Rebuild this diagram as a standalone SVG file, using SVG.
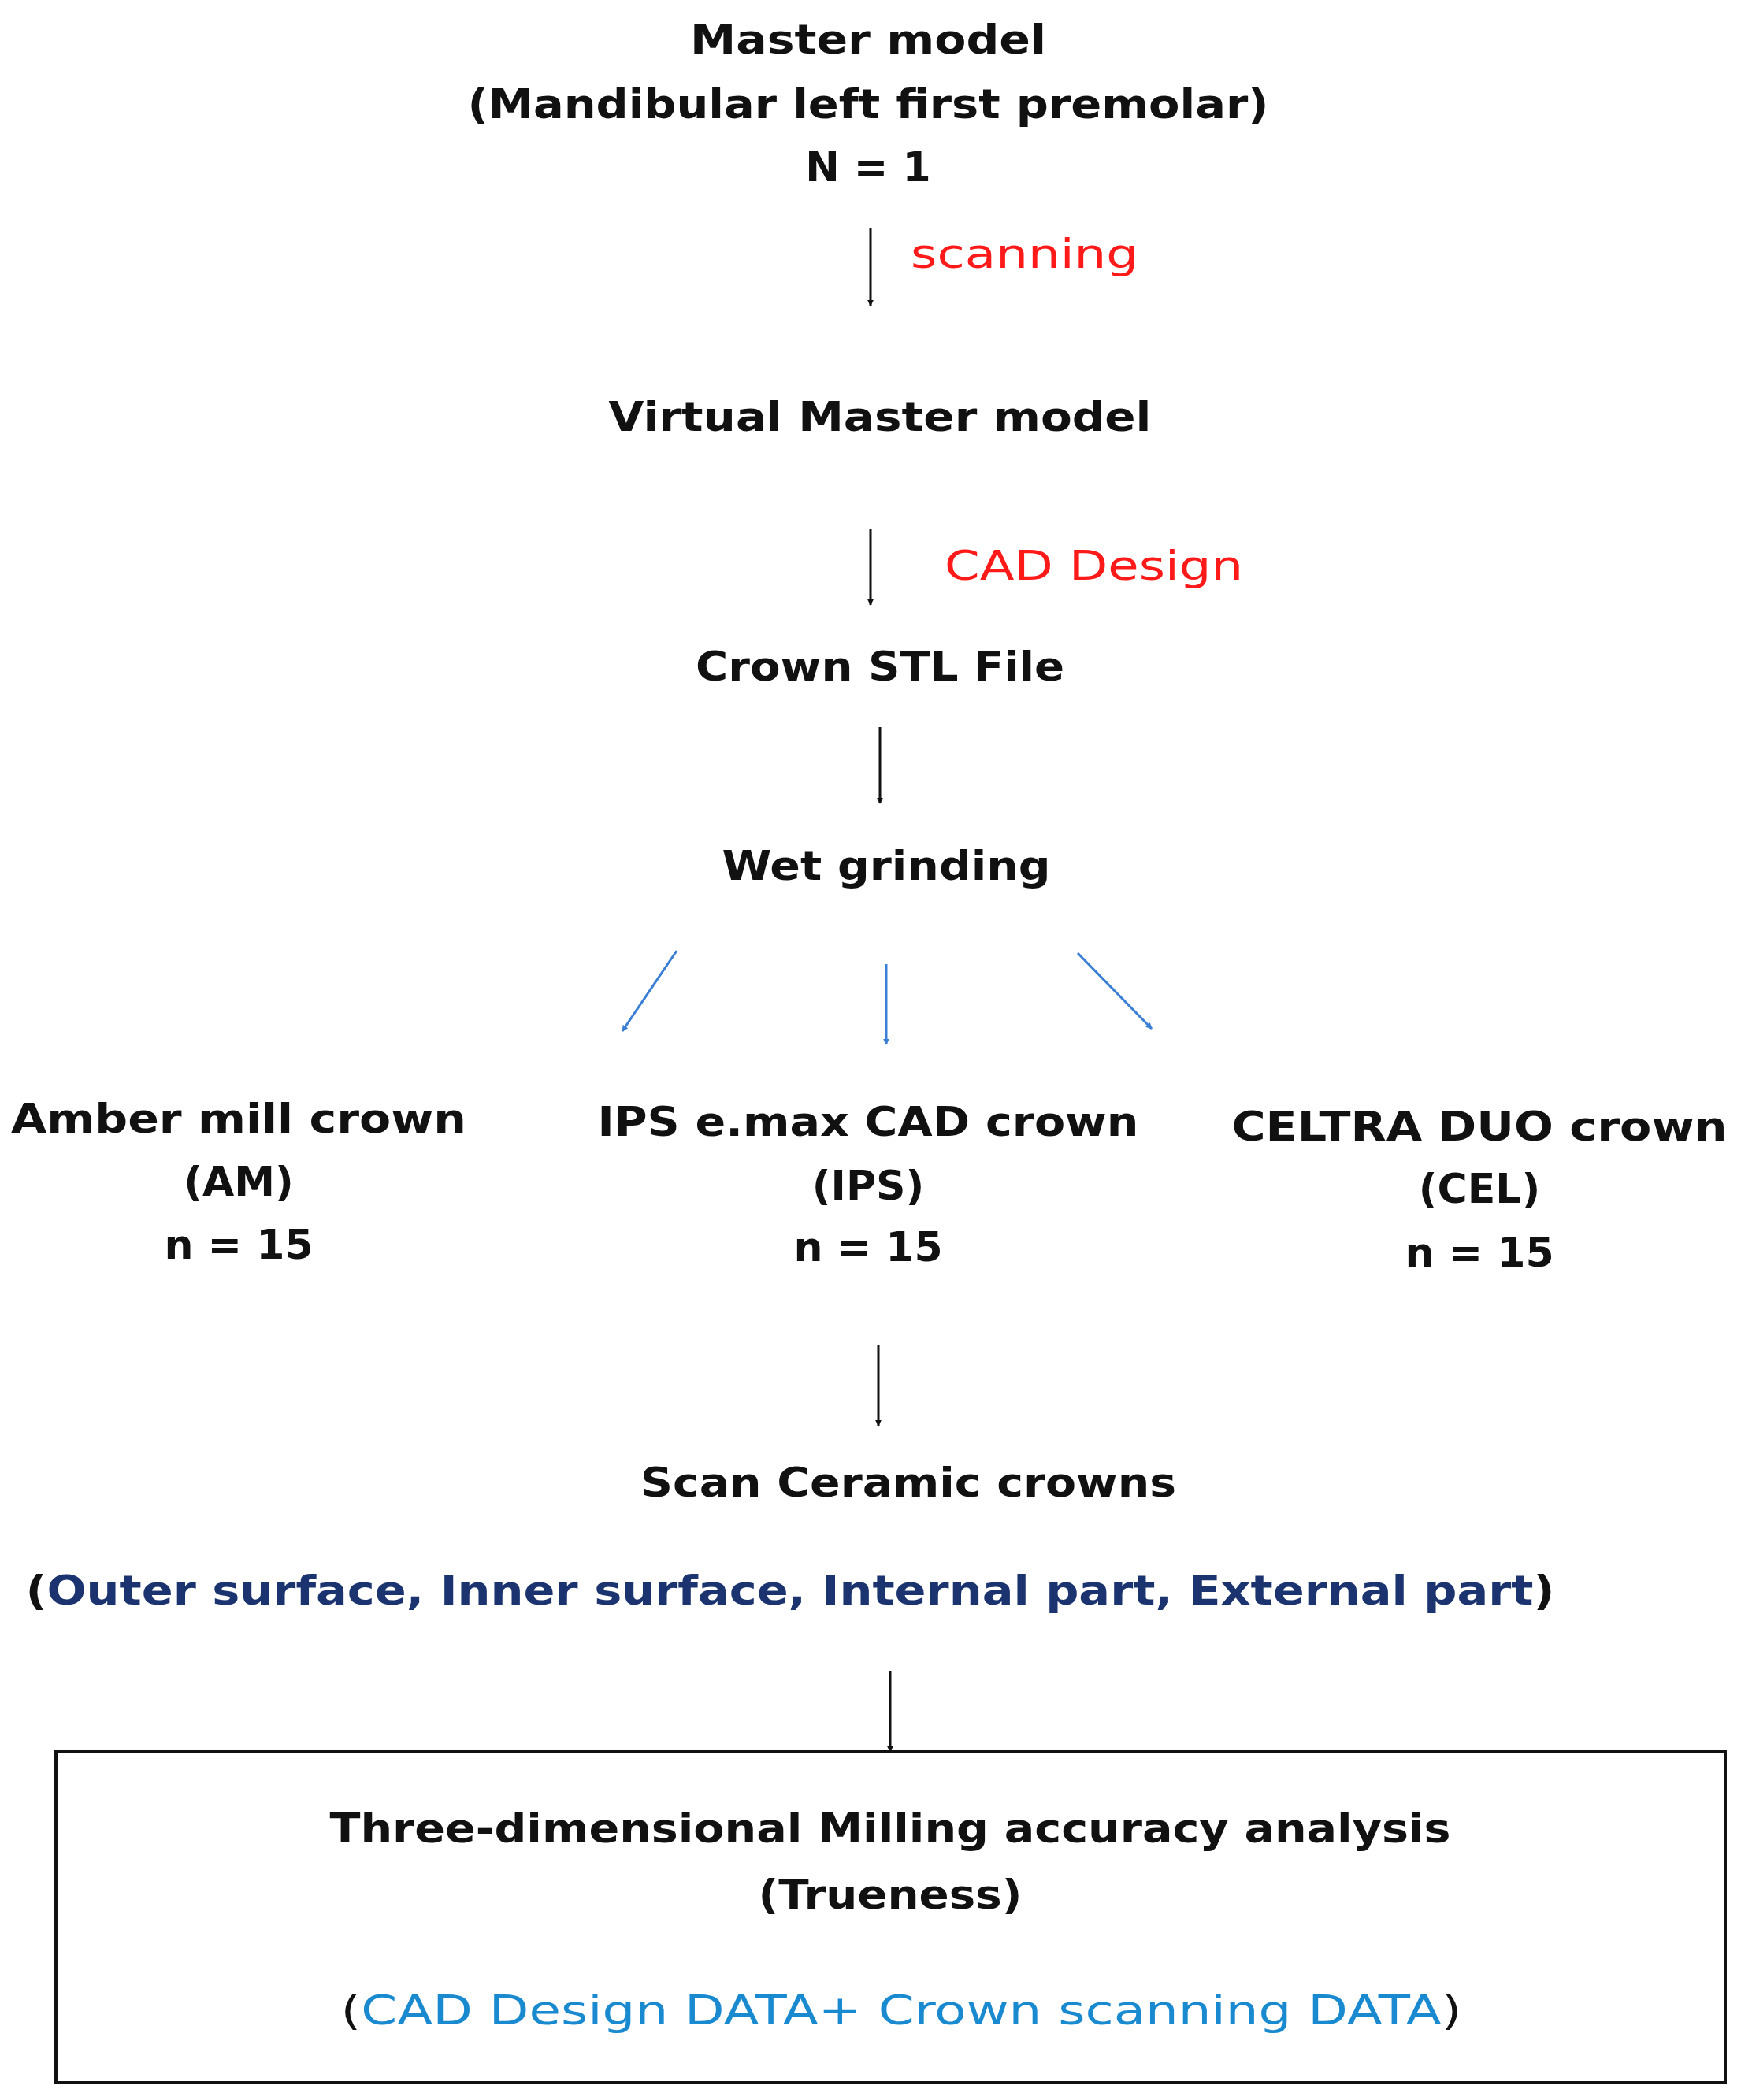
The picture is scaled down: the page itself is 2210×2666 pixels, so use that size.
<svg xmlns="http://www.w3.org/2000/svg" width="2210" height="2666" viewBox="0 0 2210 2666">
<style>
text{font-family:"DejaVu Sans","Noto Sans",sans-serif;font-size:52px;text-anchor:middle;fill:#111}
.b{font-weight:bold}
.red{fill:#ff1a1a;text-anchor:start}
.dk{fill:#1b3470}
.lb{fill:#1a8ad0}
.k{stroke:#111;stroke-width:3;fill:none}
.bl{stroke:#3a7fd5;stroke-width:3;fill:none}
</style>
<defs>
<marker id="ak" viewBox="0 0 10 10" refX="9" refY="5" markerWidth="8" markerHeight="8" markerUnits="userSpaceOnUse" orient="auto"><path d="M0,0 L10,5 L0,10 z" fill="#111"/></marker>
<marker id="ab" viewBox="0 0 10 10" refX="9" refY="5" markerWidth="8" markerHeight="8" markerUnits="userSpaceOnUse" orient="auto"><path d="M0,0 L10,5 L0,10 z" fill="#3a7fd5"/></marker>
</defs>
<rect width="2210" height="2666" fill="#fff"/>
<g id="master"><text class="b" x="1102" y="68" textLength="452" lengthAdjust="spacingAndGlyphs">Master model</text>
<text class="b" x="1102" y="150" textLength="1017" lengthAdjust="spacingAndGlyphs">(Mandibular left first premolar)</text>
<text class="b" x="1102" y="230">N = 1</text></g>
<g id="virtual"><text class="b" x="1117" y="547" textLength="689" lengthAdjust="spacingAndGlyphs">Virtual Master model</text></g>
<g id="stl"><text class="b" x="1117" y="864" textLength="468" lengthAdjust="spacingAndGlyphs">Crown STL File</text></g>
<g id="wet"><text class="b" x="1125" y="1117" textLength="417" lengthAdjust="spacingAndGlyphs">Wet grinding</text></g>
<g id="am"><text class="b" x="303" y="1438" textLength="578" lengthAdjust="spacingAndGlyphs">Amber mill crown</text>
<text class="b" x="303" y="1518">(AM)</text><text class="b" x="303" y="1598">n = 15</text></g>
<g id="ips"><text class="b" x="1102" y="1442" textLength="687" lengthAdjust="spacingAndGlyphs">IPS e.max CAD crown</text>
<text class="b" x="1102" y="1523">(IPS)</text><text class="b" x="1102" y="1601">n = 15</text></g>
<g id="cel"><text class="b" x="1878" y="1448" textLength="629" lengthAdjust="spacingAndGlyphs">CELTRA DUO crown</text>
<text class="b" x="1878" y="1527">(CEL)</text><text class="b" x="1878" y="1608">n = 15</text></g>
<g id="scan"><text class="b" x="1153" y="1900" textLength="680" lengthAdjust="spacingAndGlyphs">Scan Ceramic crowns</text>
<text class="b" x="1003" y="2037" textLength="1941" lengthAdjust="spacingAndGlyphs">(<tspan class="dk">Outer surface, Inner surface, Internal part, External part</tspan>)</text></g>
<g id="analysis"><rect x="71" y="2224" width="2119" height="420" fill="none" stroke="#111" stroke-width="4"/>
<text class="b" x="1130" y="2339" textLength="1423" lengthAdjust="spacingAndGlyphs">Three-dimensional Milling accuracy analysis</text>
<text class="b" x="1130" y="2423" textLength="335" lengthAdjust="spacingAndGlyphs">(Trueness)</text>
<text x="1144" y="2570" textLength="1423" lengthAdjust="spacingAndGlyphs">(<tspan class="lb">CAD Design DATA+ Crown scanning DATA</tspan>)</text></g>
<g id="connectors">
<line class="k" x1="1105" y1="289" x2="1105" y2="388" marker-end="url(#ak)"/>
<text class="red" x="1156" y="340" textLength="289" lengthAdjust="spacingAndGlyphs">scanning</text>
<line class="k" x1="1105" y1="671" x2="1105" y2="768" marker-end="url(#ak)"/>
<text class="red" x="1199" y="736" textLength="379" lengthAdjust="spacingAndGlyphs">CAD Design</text>
<line class="k" x1="1117" y1="923" x2="1117" y2="1020" marker-end="url(#ak)"/>
<line class="bl" x1="859" y1="1207" x2="790" y2="1309" marker-end="url(#ab)"/>
<line class="bl" x1="1125" y1="1224" x2="1125" y2="1326" marker-end="url(#ab)"/>
<line class="bl" x1="1368" y1="1210" x2="1462" y2="1306" marker-end="url(#ab)"/>
<line class="k" x1="1115" y1="1708" x2="1115" y2="1810" marker-end="url(#ak)"/>
<line class="k" x1="1130" y1="2122" x2="1130" y2="2224" marker-end="url(#ak)"/>
</g>
</svg>
